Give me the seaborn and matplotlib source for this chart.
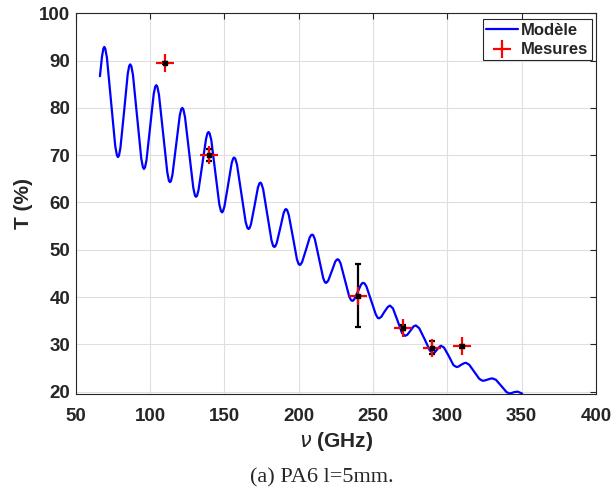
import numpy as np
import pandas as pd
import seaborn as sns
import matplotlib.pyplot as plt

# Model curve (frequency in GHz, transmission in %)
freq_model = [66.3, 67.7, 68.6,
              69.2, 69.9, 71.0, 73.8, 76.6, 77.7,
              78.4, 79.1, 80.1, 82.6, 85.0, 86.0,
              86.7, 87.4, 88.5, 91.3, 94.1, 95.2,
              95.9, 96.6, 97.6, 100.1, 102.5, 103.5,
              104.2, 104.9, 106.0, 108.8, 111.6, 112.7,
              113.4, 114.1, 115.1, 117.6, 120.0, 121.0,
              121.7, 122.4, 123.5, 126.3, 129.1, 130.2,
              130.9, 131.6, 132.6, 135.2, 137.7, 138.7,
              139.4, 140.1, 141.2, 143.9, 146.6, 147.7,
              148.4, 149.0, 150.0, 152.5, 154.9, 155.9,
              156.5, 157.3, 158.5, 161.4, 164.3, 165.5,
              166.3, 166.9, 167.9, 170.3, 172.6, 173.6,
              174.2, 174.9, 176.1, 178.9, 181.7, 182.8,
              183.6, 184.2, 185.2, 187.6, 189.9, 190.9,
              191.5, 192.2, 193.3, 196.1, 198.8, 199.9,
              200.6, 201.3, 202.3, 204.9, 207.4, 208.4,
              209.1, 209.8, 210.9, 213.7, 216.5, 217.6,
              218.3, 218.9, 219.9, 222.3, 224.6, 225.6,
              226.2, 227.0, 228.2, 231.1, 234.0, 235.2,
              236.0, 236.6, 237.5, 239.7, 241.9, 242.8,
              243.4, 244.2, 245.5, 248.7, 251.9, 253.2,
              254.0, 255.5, 257.7, 259.9, 261.4, 263.4, 266.5, 269.5,
              271.5, 273.0, 275.2, 277.3, 278.8, 281.1, 284.7, 288.2,
              290.5, 291.5, 293.1, 294.7, 295.7, 297.8, 301.0, 304.1,
              306.2, 307.5, 309.4, 311.2, 312.5, 314.7, 318.1, 321.5,
              323.7, 325.0, 327.1, 329.1, 330.4, 332.7, 336.3, 339.8,
              342.1, 345.0, 347.3, 350.3]
trans_model = [86.7, 90.9, 92.5,
               92.9, 92.5, 90.6, 81.3, 71.9, 70.0,
               69.6, 69.9, 71.6, 79.4, 87.2, 88.9,
               89.2, 88.85, 87.0, 78.2, 69.3, 67.45,
               67.1, 67.4, 68.9, 76.0, 83.0, 84.5,
               84.8, 84.5, 82.8, 74.6, 66.4, 64.6,
               64.3, 64.55, 65.9, 72.2, 78.4, 79.75,
               80.0, 79.7, 78.1, 70.6, 63.1, 61.5,
               61.2, 61.4, 62.6, 68.1, 73.5, 74.7,
               74.9, 74.6, 73.2, 66.4, 59.6, 58.2,
               57.9, 58.1, 59.1, 63.7, 68.3, 69.3,
               69.5, 69.3, 68.0, 62.0, 55.9, 54.6,
               54.4, 54.55, 55.4, 59.3, 63.2, 64.05,
               64.2, 64.0, 62.8, 57.4, 52.0, 50.8,
               50.6, 50.7, 51.4, 54.6, 57.8, 58.5,
               58.6, 58.4, 57.4, 52.7, 48.0, 47.0,
               46.8, 46.9, 47.4, 50.0, 52.6, 53.1,
               53.2, 53.05, 52.2, 48.1, 44.0, 43.15,
               43.0, 43.1, 43.5, 45.5, 47.5, 47.9,
               48.0, 47.85, 47.1, 43.6, 40.1, 39.35,
               39.2, 39.25, 39.6, 41.1, 42.6, 42.95,
               43.0, 42.9, 42.3, 39.3, 36.3, 35.6,
               35.5, 35.8, 36.9, 37.9, 38.2, 37.6, 35.0, 32.4,
               31.8, 32.0, 32.9, 33.8, 34.0, 33.4, 31.1, 28.7,
               28.1, 28.3, 28.9, 29.5, 29.7, 29.3, 27.5, 25.6,
               25.2, 25.3, 25.7, 26.0, 26.1, 25.7, 24.2, 22.7,
               22.3, 22.35, 22.55, 22.75, 22.8, 22.5, 21.2, 19.9,
               19.6, 19.9, 20.0, 19.6]

# Measurements
freq_meas = [110, 140, 240, 270, 290, 310]
trans_meas = [89.5, 70.1, 40.3, 33.5, 29.3, 29.6]
err_meas = [0.3, 1.3, 6.7, 0.5, 1.4, 0.3]

model = pd.DataFrame({"freq": freq_model, "T": trans_model})
meas = pd.DataFrame({"freq": freq_meas, "T": trans_meas, "err": err_meas})

sns.set_theme(style="whitegrid")
plt.rcParams['font.family'] = ['Liberation Sans', 'DejaVu Sans']

fig = plt.figure(figsize=(6.14, 4.93), dpi=100)
ax = fig.add_axes([0.1233, 0.2008, 0.8474, 0.7722])

sns.lineplot(data=model, x="freq", y="T", sort=False, color="#0000ff",
             linewidth=1.6, ax=ax, label="Modèle", solid_joinstyle="round")
ax.errorbar(meas["freq"], meas["T"], yerr=meas["err"], fmt="none",
            ecolor="black", elinewidth=1.6, capsize=2, capthick=1.6, zorder=3)
sns.scatterplot(data=meas, x="freq", y="T", marker="+", color="red", s=150,
                linewidth=1.6, ax=ax, label="Mesures", zorder=4)
ax.scatter(meas["freq"], meas["T"], marker="s", color="black", s=9, zorder=5)

ax.set_xlim(50, 400)
ax.set_ylim(19.5, 100)
ax.set_xticks(np.arange(50, 401, 50))
ax.set_yticks(np.arange(20, 101, 10))

ax.set_facecolor("white")
ax.grid(True, color="#dfdfdf", linewidth=0.8)
for s in ax.spines.values():
    s.set_color("#262626")
    s.set_linewidth(0.8)
ax.tick_params(axis="both", direction="in", length=4, width=0.8, colors="#262626",
               top=True, right=True, labelsize=13.5, pad=4)
ax.tick_params(axis="x", pad=10)
for lab in ax.get_xticklabels() + ax.get_yticklabels():
    lab.set_fontweight("bold")

ax.set_xlabel(r"$\nu$ (GHz)", fontsize=15, fontweight="bold", color="#262626", labelpad=4)
ax.set_ylabel("T (%)", fontsize=15, fontweight="bold", color="#262626", labelpad=4)

leg = ax.legend(loc="upper right", bbox_to_anchor=(0.998, 0.993), frameon=True,
                fancybox=False, edgecolor="#262626", framealpha=1,
                prop={"weight": "bold", "size": 12}, handlelength=1.9,
                handletextpad=0.2, borderpad=0.2, labelspacing=0.25, borderaxespad=0.2)
leg.get_frame().set_linewidth(0.8)

fig.text(0.524, 0.03, "(a) PA6 l=5mm.", ha="center", va="center",
         fontsize=16, family=["Liberation Serif", "DejaVu Serif"])

fig.savefig("out.png", dpi=100)
